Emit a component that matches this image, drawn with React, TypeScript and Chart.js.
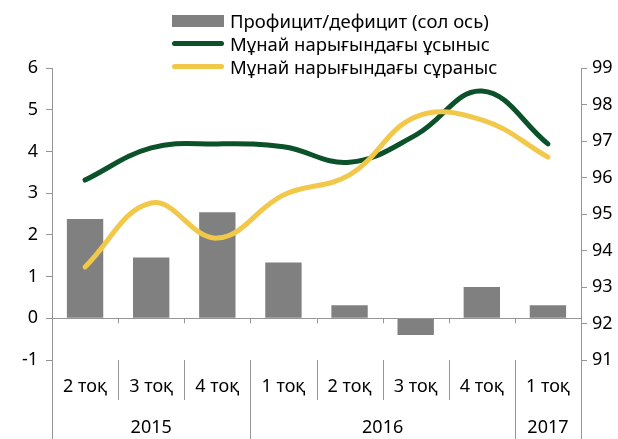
import React, { useEffect, useRef } from 'react';
import { Chart, registerables } from 'chart.js';

Chart.register(...registerables);

const quarters = ['2 тоқ', '3 тоқ', '4 тоқ', '1 тоқ', '2 тоқ', '3 тоқ', '4 тоқ', '1 тоқ'];
const years = ['2015', '2016', '2017'];
const yearSpans = [3, 4, 1];
const balance = [2.38, 1.46, 2.54, 1.34, 0.31, -0.4, 0.75, 0.31];
const supply = [95.93, 96.81, 96.92, 96.84, 96.42, 97.16, 98.37, 96.92];
const demand = [93.55, 95.3, 94.34, 95.52, 96.07, 97.66, 97.58, 96.56];
const seriesLabels = ['Профицит/дефицит (сол ось)', 'Мұнай нарығындағы ұсыныс', 'Мұнай нарығындағы сұраныс'];
const leftRange = [-1, 6];
const rightRange = [91, 99];

const FONT = '"Noto Sans", sans-serif';
const TICK_SIZE = 18;
const AXIS = '#959595';
const BAR = '#808080';
const GREEN = '#0b5129';
const YELLOW = '#f2c84b';

const groupPlugin = {
  id: 'groupAxis',
  afterDraw(chart: any) {
    const { ctx, chartArea, scales } = chart;
    const x = scales.x;
    const y = scales.y;
    const w = x.getPixelForValue(1) - x.getPixelForValue(0);
    const y0 = y.getPixelForValue(0);
    const bottom = chart.height;
    ctx.save();
    ctx.strokeStyle = AXIS;
    ctx.lineWidth = 1;
    ctx.beginPath();
    ctx.moveTo(chartArea.left, Math.round(y0) + 0.5);
    ctx.lineTo(chartArea.right, Math.round(y0) + 0.5);
    ctx.stroke();
    const yearEnds = new Set<number>();
    let acc = 0;
    yearEnds.add(0);
    yearSpans.forEach((s) => { acc += s; yearEnds.add(acc); });
    for (let i = 0; i <= quarters.length; i++) {
      const bx = Math.round(x.getPixelForValue(0) - w / 2 + i * w) + 0.5;
      if (i > 0 && i < quarters.length) {
        ctx.beginPath();
        ctx.moveTo(bx, y0);
        ctx.lineTo(bx, y0 + 5);
        ctx.stroke();
      }
      const long = yearEnds.has(i);
      ctx.beginPath();
      ctx.moveTo(bx, chartArea.bottom);
      ctx.lineTo(bx, long ? bottom : chartArea.bottom + 40);
      ctx.stroke();
    }
    ctx.fillStyle = '#000';
    ctx.font = `${TICK_SIZE}px ${FONT}`;
    ctx.textAlign = 'center';
    ctx.textBaseline = 'middle';
    let start = 0;
    years.forEach((yr, k) => {
      const end = start + yearSpans[k];
      const cx = x.getPixelForValue(0) - w / 2 + ((start + end) / 2) * w;
      ctx.fillText(yr, cx, 428);
      start = end;
    });
    ctx.restore();
  },
};

export default function App() {
  const ref = useRef<HTMLCanvasElement>(null);
  useEffect(() => {
    document.body.style.margin = '0';
    const chart = new Chart(ref.current!, {
      type: 'bar',
      data: {
        labels: quarters,
        datasets: [
          {
            type: 'line',
            label: seriesLabels[1],
            data: supply,
            yAxisID: 'y1',
            borderColor: GREEN,
            borderWidth: 5,
            pointRadius: 0,
            tension: 0.4,
            borderCapStyle: 'round',
            order: 1,
          } as any,
          {
            type: 'line',
            label: seriesLabels[2],
            data: demand,
            yAxisID: 'y1',
            borderColor: YELLOW,
            borderWidth: 5,
            pointRadius: 0,
            tension: 0.4,
            borderCapStyle: 'round',
            order: 0,
          } as any,
          {
            type: 'bar',
            label: seriesLabels[0],
            data: balance,
            yAxisID: 'y',
            backgroundColor: BAR,
            categoryPercentage: 1,
            barPercentage: 0.55,
            order: 2,
          },
        ],
      },
      options: {
        animation: false,
        responsive: false,
        maintainAspectRatio: false,
        layout: { padding: { top: 68, left: 0, right: 0, bottom: 0 } },
        plugins: { legend: { display: false }, tooltip: { enabled: false } },
        scales: {
          x: {
            type: 'category',
            offset: true,
            grid: { display: false, drawTicks: false },
            border: { display: false },
            ticks: { color: '#000', font: { family: FONT, size: TICK_SIZE }, padding: 16, maxRotation: 0, autoSkip: false },
            afterFit: (s: any) => { s.height = 79; },
          },
          y: {
            position: 'left',
            min: leftRange[0],
            max: leftRange[1],
            ticks: { stepSize: 1, color: '#000', font: { family: FONT, size: TICK_SIZE }, padding: 8 },
            grid: { drawOnChartArea: false, tickLength: 6, color: AXIS },
            border: { color: AXIS },
            afterFit: (s: any) => { s.width = 52; },
          },
          y1: {
            position: 'right',
            min: rightRange[0],
            max: rightRange[1],
            ticks: { stepSize: 1, color: '#000', font: { family: FONT, size: TICK_SIZE }, padding: 5 },
            grid: { drawOnChartArea: false, tickLength: 6, color: AXIS },
            border: { color: AXIS },
            afterFit: (s: any) => { s.width = 37; },
          },
        },
      },
      plugins: [groupPlugin],
    });
    return () => chart.destroy();
  }, []);

  const swatches = [
    { color: BAR, h: 12, r: 0 },
    { color: GREEN, h: 5, r: 3 },
    { color: YELLOW, h: 5, r: 3 },
  ];
  return (
    <div style={{ position: 'fixed', left: 0, top: 0, width: 618, height: 439 }}>
      <canvas ref={ref} width={618} height={439} style={{ display: 'block' }} />
      <div style={{ position: 'absolute', left: 172, top: 9, fontFamily: FONT, fontSize: 18.5 }}>
        {seriesLabels.map((l, i) => (
          <div key={i} style={{ display: 'flex', alignItems: 'center', height: 23 }}>
            <div style={{ width: 52, height: swatches[i].h, background: swatches[i].color, borderRadius: swatches[i].r, marginRight: 6 }} />
            <span style={{ whiteSpace: 'nowrap', lineHeight: '23px' }}>{l}</span>
          </div>
        ))}
      </div>
    </div>
  );
}
